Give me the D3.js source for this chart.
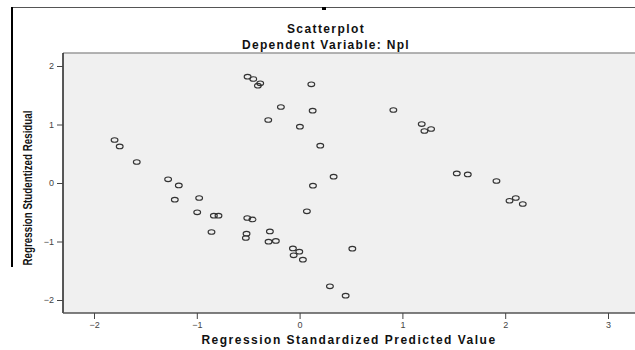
<!DOCTYPE html>
<html><head><meta charset="utf-8">
<script src="https://cdn.jsdelivr.net/npm/d3@7"></script>
<style>
html,body{margin:0;padding:0;background:#fff;overflow:hidden;}
svg{display:block;font-family:Arial,"Liberation Sans",sans-serif;}
</style></head>
<body>
<svg id="chart" width="635" height="350"></svg>
<script>
// ---- data ----
const predicted = [-1.80,-1.75,-1.584,-1.279,-1.175,-1.214,-0.977,-0.996,-0.834,-0.789,-0.857,
  -0.506,-0.451,-0.383,-0.406,0.114,-0.182,0.127,-0.305,0.003,0.201,0.331,0.130,0.071,
  -0.509,-0.458,-0.289,-0.516,-0.523,-0.302,-0.231,-0.065,-0.003,-0.058,0.032,0.513,0.295,0.448,
  0.912,1.188,1.214,1.279,1.529,1.636,1.915,2.042,2.103,2.171];
const residual = [0.735,0.626,0.359,0.062,-0.041,-0.285,-0.256,-0.502,-0.559,-0.559,-0.838,
  1.817,1.778,1.703,1.663,1.686,1.299,1.236,1.077,0.962,0.638,0.108,-0.046,-0.485,
  -0.598,-0.622,-0.827,-0.867,-0.940,-1.003,-0.991,-1.118,-1.174,-1.237,-1.311,-1.123,-1.767,-1.926,
  1.248,1.008,0.889,0.923,0.164,0.147,0.034,-0.303,-0.256,-0.359];
const xTicks = [-2,-1,0,1,2,3];
const yTicks = [-2,-1,0,1,2];
const titleText = "Scatterplot";
const subtitleText = "Dependent Variable: Npl";
const xTitle = "Regression Standardized Predicted Value";
const yTitle = "Regression Studentized Residual";

const svg = d3.select("#chart");
const plot = {left:63, top:53, right:640, bottom:313};

const x = d3.scaleLinear().domain([-2,3]).range([94,608]);
const y = d3.scaleLinear().domain([-2,2]).range([300,66]);

// page remnants: frame lines
svg.append("line").attr("x1",12).attr("x2",635).attr("y1",7.5).attr("y2",7.5)
  .attr("stroke","#555").attr("stroke-width",1);
svg.append("rect").attr("x",322).attr("y",7).attr("width",4).attr("height",3).attr("fill","#000");
svg.append("line").attr("x1",12).attr("x2",12).attr("y1",7).attr("y2",267)
  .attr("stroke","#000").attr("stroke-width",2);

// titles
svg.append("text").attr("x",326).attr("y",33).attr("text-anchor","middle")
  .attr("font-weight","bold").attr("font-size",12).attr("letter-spacing",1.4)
  .attr("fill","#111").text(titleText);
svg.append("text").attr("x",326).attr("y",48.5).attr("text-anchor","middle")
  .attr("font-weight","bold").attr("font-size",12).attr("letter-spacing",1.3)
  .attr("fill","#111").text(subtitleText);

// plot background
svg.append("rect").attr("x",plot.left).attr("y",plot.top)
  .attr("width",plot.right-plot.left).attr("height",plot.bottom-plot.top)
  .attr("fill","#f0f0f0");
svg.append("line").attr("x1",plot.left).attr("x2",plot.right).attr("y1",plot.top).attr("y2",plot.top)
  .attr("stroke","#9a9a9a").attr("stroke-width",1.5);

// axes
const yAxis = d3.axisLeft(y).tickValues(yTicks).tickSize(6).tickPadding(3).tickFormat(d3.format("d"));
const gy = svg.append("g").attr("transform",`translate(${plot.left},0)`).call(yAxis);
gy.select(".domain").attr("d",`M0,${plot.top}V${plot.bottom}`).attr("stroke","#222").attr("stroke-width",1.5);
gy.selectAll(".tick line").attr("stroke","#444");
gy.selectAll(".tick text").attr("font-size",9).attr("fill","#444").attr("font-family","Arial,'Liberation Sans',sans-serif");

const xAxis = d3.axisBottom(x).tickValues(xTicks).tickSize(6).tickPadding(3).tickFormat(d3.format("d"));
const gx = svg.append("g").attr("transform",`translate(0,${plot.bottom})`).call(xAxis);
gx.select(".domain").attr("d",`M${plot.left},0H${plot.right}`).attr("stroke","#555").attr("stroke-width",1.5);
gx.selectAll(".tick line").attr("stroke","#444");
gx.selectAll(".tick text").attr("font-size",9).attr("fill","#444").attr("font-family","Arial,'Liberation Sans',sans-serif");

// axis titles
svg.append("text").attr("x",349).attr("y",344).attr("text-anchor","middle")
  .attr("font-weight","bold").attr("font-size",12).attr("letter-spacing",1.5)
  .attr("fill","#111").text(xTitle);
svg.append("text").attr("transform","translate(32,188) rotate(-90)").attr("text-anchor","middle")
  .attr("font-weight","bold").attr("font-size",12.5).attr("textLength",155).attr("lengthAdjust","spacingAndGlyphs")
  .attr("fill","#111").text(yTitle);

// points
const pts = predicted.map((p,i)=>({p, r:residual[i]}));
svg.append("g").selectAll("ellipse").data(pts).join("ellipse")
  .attr("cx",d=>x(d.p)).attr("cy",d=>y(d.r)).attr("rx",3.4).attr("ry",2.3)
  .attr("fill","none").attr("stroke","#333").attr("stroke-width",1.1);
</script>
</body></html>
